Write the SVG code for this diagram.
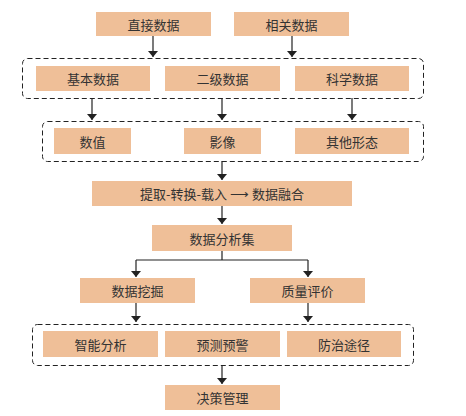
<svg xmlns="http://www.w3.org/2000/svg" width="466" height="416" viewBox="0 0 466 416">
<style>
.n{fill:#EFBF98}
.t{font-family:"Noto Sans CJK SC","Liberation Sans",sans-serif;font-size:13px;fill:#333;text-anchor:middle;dominant-baseline:central}
.d{fill:none;stroke:#222;stroke-width:1;stroke-dasharray:5,3}
.c{fill:none;stroke:#222;stroke-width:1.2}
</style>
<defs>
<marker id="a" viewBox="0 0 6 10" refX="6" refY="5" markerWidth="6" markerHeight="10" markerUnits="userSpaceOnUse" orient="auto"><path d="M0,0 L6,5 L0,10 Z" fill="#222"/></marker>
</defs>
<rect width="466" height="416" fill="#fff"/>
<g id="groups">
<rect class="d" x="22.5" y="58.5" width="401" height="40" rx="5"/>
<rect class="d" x="42.5" y="121.5" width="381" height="40" rx="5"/>
<rect class="d" x="32.5" y="324.5" width="381" height="41" rx="5"/>
</g>
<g id="connectors">
<path class="c" d="M153,36 V57" marker-end="url(#a)"/>
<path class="c" d="M292,36 V57" marker-end="url(#a)"/>
<path class="c" d="M92,98 V120" marker-end="url(#a)"/>
<path class="c" d="M222,98 V120" marker-end="url(#a)"/>
<path class="c" d="M352,98 V120" marker-end="url(#a)"/>
<path class="c" d="M222,161 V180" marker-end="url(#a)"/>
<path class="c" d="M222,206 V224" marker-end="url(#a)"/>
<path class="c" d="M222,251 V260 M136,260 H308"/>
<path class="c" d="M136,260 V277" marker-end="url(#a)"/>
<path class="c" d="M308,260 V277" marker-end="url(#a)"/>
<path class="c" d="M136,303 V322" marker-end="url(#a)"/>
<path class="c" d="M308,303 V322" marker-end="url(#a)"/>
<path class="c" d="M222,365 V384" marker-end="url(#a)"/>
</g>
<g id="n1"><rect class="n" x="96" y="12" width="115" height="24"/><text class="t" x="153.5" y="24">直接数据</text></g>
<g id="n2"><rect class="n" x="234" y="12" width="115" height="24"/><text class="t" x="291.5" y="24">相关数据</text></g>
<g id="n3"><rect class="n" x="36" y="66" width="114" height="25"/><text class="t" x="93" y="78.5">基本数据</text></g>
<g id="n4"><rect class="n" x="165" y="66" width="115" height="25"/><text class="t" x="222.5" y="78.5">二级数据</text></g>
<g id="n5"><rect class="n" x="295" y="66" width="114" height="25"/><text class="t" x="352" y="78.5">科学数据</text></g>
<g id="n6"><rect class="n" x="54" y="128" width="77" height="26"/><text class="t" x="92.5" y="141">数值</text></g>
<g id="n7"><rect class="n" x="184" y="128" width="77" height="26"/><text class="t" x="222.5" y="141">影像</text></g>
<g id="n8"><rect class="n" x="295" y="128" width="114" height="26"/><text class="t" x="352" y="141">其他形态</text></g>
<g id="n9"><rect class="n" x="92" y="181" width="260" height="25"/><text class="t" x="222" y="193.5">提取-转换-载入 ⟶ 数据融合</text></g>
<g id="n10"><rect class="n" x="152" y="225" width="140" height="26"/><text class="t" x="222" y="238">数据分析集</text></g>
<g id="n11"><rect class="n" x="80" y="278" width="115" height="25"/><text class="t" x="137.5" y="290.5">数据挖掘</text></g>
<g id="n12"><rect class="n" x="250" y="278" width="115" height="25"/><text class="t" x="307.5" y="290.5">质量评价</text></g>
<g id="n13"><rect class="n" x="43" y="331" width="115" height="26"/><text class="t" x="100.5" y="344">智能分析</text></g>
<g id="n14"><rect class="n" x="165" y="331" width="115" height="26"/><text class="t" x="222.5" y="344">预测预警</text></g>
<g id="n15"><rect class="n" x="287" y="331" width="114" height="26"/><text class="t" x="344" y="344">防治途径</text></g>
<g id="n16"><rect class="n" x="165" y="385" width="115" height="25"/><text class="t" x="222.5" y="397.5">决策管理</text></g>
</svg>
